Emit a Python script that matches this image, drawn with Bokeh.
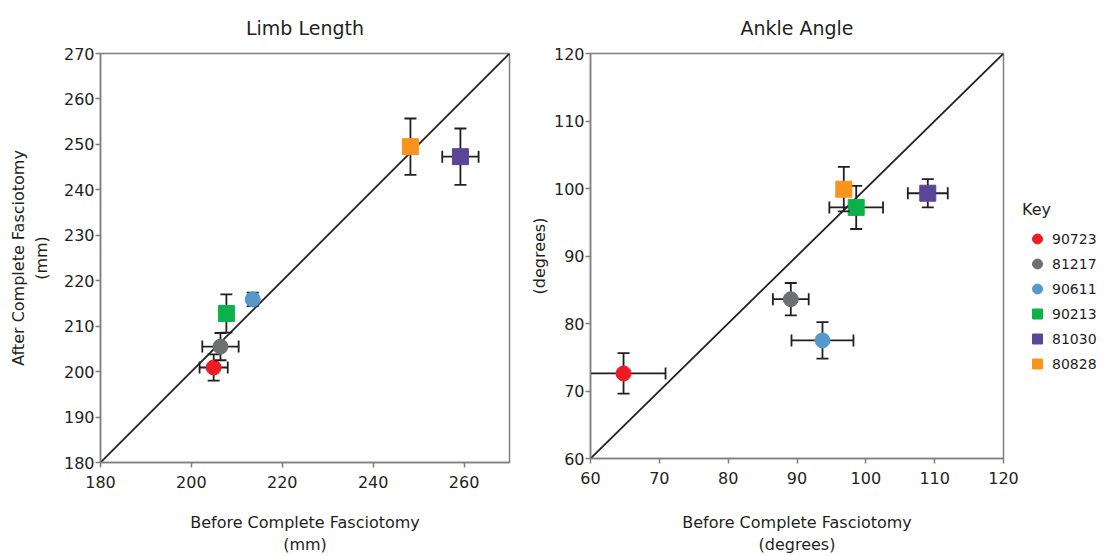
import math
from bokeh.plotting import figure
from bokeh.models import ColumnDataSource, Range1d, FixedTicker, Legend, LegendItem
from bokeh.layouts import row
from bokeh.embed import file_html
from bokeh.resources import INLINE

# ---------------- data ----------------
ids = ["90723", "81217", "90611", "90213", "81030", "80828"]
colors = ["#ED1C24", "#6D6F71", "#5499C9", "#0DB14B", "#5B4597", "#F7941D"]
markers = ["circle", "circle", "circle", "square", "square", "square"]

# Limb length (mm)
limb_before = [204.9, 206.4, 213.5, 207.7, 259.2, 248.2]
limb_after = [200.9, 205.5, 215.9, 212.8, 247.3, 249.5]
limb_before_err = [3.1, 4.0, 0.8, 0.8, 4.0, 0.8]
limb_after_err = [2.9, 3.0, 1.5, 4.2, 6.2, 6.2]

# Ankle angle (degrees)
ankle_before = [64.8, 89.1, 93.7, 98.6, 109.0, 96.8]
ankle_after = [72.6, 83.6, 77.5, 97.2, 99.3, 99.9]
ankle_before_err = [6.1, 2.6, 4.5, 3.9, 2.9, 0.8]
ankle_after_err = [3.0, 2.4, 2.7, 3.2, 2.1, 3.3]

limb_range = [180, 270]
limb_xticks = [180, 200, 220, 240, 260]
limb_yticks = [180, 190, 200, 210, 220, 230, 240, 250, 260, 270]
ankle_range = [60, 120]
ankle_ticks = [60, 70, 80, 90, 100, 110, 120]

FONT = "DejaVu Sans"
TEXT = "#231F20"
AXIS = "#7F7F7F"


def style(p, xticks, yticks, xlabel, ylabel, xstandoff, ystandoff):
    p.xgrid.visible = False
    p.ygrid.visible = False
    p.outline_line_color = AXIS
    p.outline_line_width = 1.5
    p.xaxis.ticker = FixedTicker(ticks=xticks)
    p.yaxis.ticker = FixedTicker(ticks=yticks)
    for ax in (p.xaxis[0], p.yaxis[0]):
        ax.axis_line_color = AXIS
        ax.axis_line_width = 1.5
        ax.major_tick_line_color = AXIS
        ax.major_tick_line_width = 1.5
        ax.major_tick_in = 0
        ax.major_tick_out = 5
        ax.minor_tick_line_color = None
        ax.major_label_text_font = FONT
        ax.major_label_text_font_size = "16px"
        ax.major_label_text_color = TEXT
        ax.axis_label_text_font = FONT
        ax.axis_label_text_font_size = "16px"
        ax.axis_label_text_font_style = "normal"
        ax.axis_label_text_color = TEXT
    p.xaxis.axis_label = xlabel
    p.yaxis.axis_label = ylabel
    p.xaxis.axis_label_standoff = xstandoff
    p.yaxis.axis_label_standoff = ystandoff
    p.xaxis.major_label_standoff = 8
    p.yaxis.major_label_standoff = 1
    p.title.text_font = FONT
    p.title.text_font_size = "19px"
    p.title.text_font_style = "normal"
    p.title.text_color = TEXT
    p.title.align = "center"
    p.title.standoff = 29


def draw(p, xs, ys, xe, ye, rng):
    p.line(rng, rng, line_color="#231F20", line_width=1.8)
    renderers = []
    for i in range(len(ids)):
        src = ColumnDataSource(dict(
            x=[xs[i]], y=[ys[i]],
            xl=[xs[i] - xe[i]], xh=[xs[i] + xe[i]],
            yl=[ys[i] - ye[i]], yh=[ys[i] + ye[i]],
        ))
        kw = dict(source=src, line_color="#231F20", line_width=1.8)
        p.segment(x0="x", y0="yl", x1="x", y1="yh", **kw)
        p.segment(x0="xl", y0="y", x1="xh", y1="y", **kw)
        p.scatter(x="x", y="yl", marker="dash", size=12, **kw)
        p.scatter(x="x", y="yh", marker="dash", size=12, **kw)
        p.scatter(x="xl", y="y", marker="dash", angle=math.pi / 2, size=12, **kw)
        p.scatter(x="xh", y="y", marker="dash", angle=math.pi / 2, size=12, **kw)
        r = p.scatter(x="x", y="y", source=src, marker=markers[i],
                      size=16 if markers[i] == "square" else 15,
                      fill_color=colors[i], line_color=colors[i])
        renderers.append(r)
    return renderers


p1 = figure(title="Limb Length", output_backend="svg", toolbar_location=None,
            frame_width=409, frame_height=409,
            min_border_left=100, min_border_right=10, min_border_top=52, min_border_bottom=79,
            x_range=Range1d(*limb_range), y_range=Range1d(*limb_range))
style(p1, limb_xticks, limb_yticks, "Before Complete Fasciotomy\n(mm)", "After Complete Fasciotomy\n(mm)", 22, 10)
draw(p1, limb_before, limb_after, limb_before_err, limb_after_err, limb_range)

p2 = figure(title="Ankle Angle", output_backend="svg", toolbar_location=None,
            frame_width=413, frame_height=405,
            min_border_left=71, min_border_right=100, min_border_top=52, min_border_bottom=83,
            x_range=Range1d(*ankle_range), y_range=Range1d(*ankle_range))
style(p2, ankle_ticks, ankle_ticks, "Before Complete Fasciotomy\n(degrees)", "(degrees)", 26, 2)
rs = draw(p2, ankle_before, ankle_after, ankle_before_err, ankle_after_err, ankle_range)

legend = Legend(items=[LegendItem(label=ids[i], renderers=[rs[i]]) for i in range(len(ids))],
                title="Key", location=(19, 82))
legend.title_text_font = FONT
legend.title_text_font_size = "16px"
legend.title_text_font_style = "normal"
legend.title_text_color = TEXT
legend.title_standoff = 7
legend.label_text_font = FONT
legend.label_text_font_size = "14px"
legend.label_text_color = TEXT
legend.border_line_color = None
legend.background_fill_alpha = 0
legend.spacing = 0
legend.glyph_width = 30
legend.glyph_height = 25
legend.label_standoff = 0
legend.padding = 0
p2.add_layout(legend, "right")

layout = row(p1, p2)
open("out.html", "w").write(file_html(layout, INLINE))
